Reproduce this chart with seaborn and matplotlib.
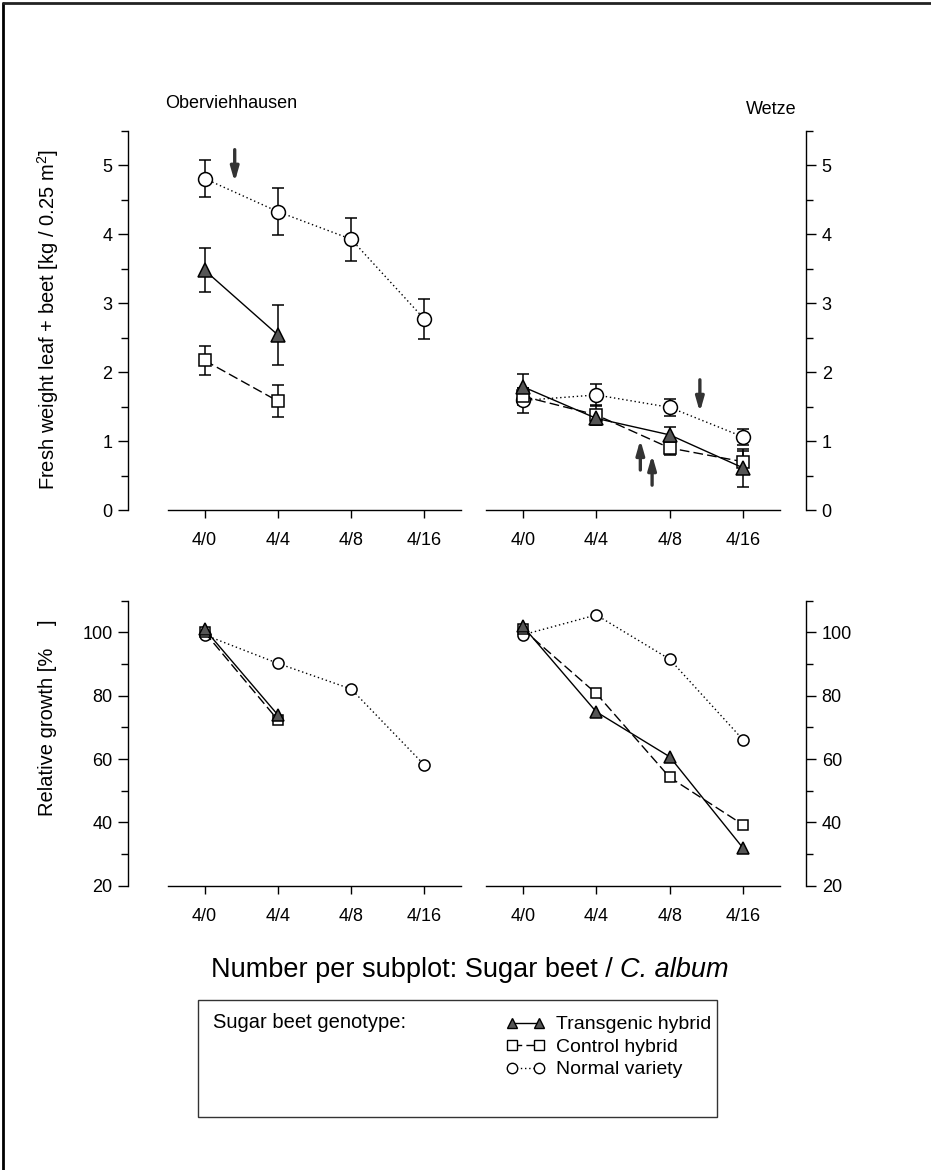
import numpy as np
import pandas as pd
import seaborn as sns
import matplotlib
matplotlib.use('Agg')
from matplotlib import pyplot as plt
from matplotlib.lines import Line2D
from matplotlib.patches import Rectangle

# categories: sugar beet / C. album per subplot
densities = ['4/0', '4/4', '4/8', '4/16']
genotypes = ['Transgenic hybrid', 'Control hybrid', 'Normal variety']

# fresh weight leaf + beet [kg / 0.25 m2], Oberviehhausen
obv_trans = [3.48, 2.54]
obv_trans_err = [0.32, 0.44]
obv_ctrl = [2.17, 1.58]
obv_ctrl_err = [0.21, 0.23]
obv_norm = [4.81, 4.33, 3.93, 2.77]
obv_norm_err = [0.27, 0.34, 0.31, 0.29]

# fresh weight, Wetze
wet_trans = [1.79, 1.33, 1.09, 0.61]
wet_trans_err = [0.19, 0.10, 0.12, 0.27]
wet_ctrl = [1.65, 1.38, 0.90, 0.70]
wet_ctrl_err = [0.12, 0.14, 0.10, 0.15]
wet_norm = [1.59, 1.67, 1.49, 1.06]
wet_norm_err = [0.18, 0.16, 0.12, 0.11]

# relative growth [%]
obv_trans_rel = [101, 73.9]
obv_ctrl_rel = [100, 72.3]
obv_norm_rel = [99.2, 90.2, 82.1, 58.1]
wet_trans_rel = [102, 74.9, 60.7, 31.8]
wet_ctrl_rel = [101, 80.7, 54.2, 39.2]
wet_norm_rel = [99.2, 105.5, 91.5, 66]

sns.set_theme(style='white')
plt.rcParams['font.family'] = ['Liberation Sans', 'DejaVu Sans']
plt.rcParams['mathtext.fontset'] = 'custom'
plt.rcParams['mathtext.rm'] = 'Liberation Sans'
plt.rcParams['mathtext.it'] = 'Liberation Sans:italic'
for k in ['text.color', 'axes.labelcolor', 'xtick.color', 'ytick.color']:
    plt.rcParams[k] = 'black'

styles = {
    'Transgenic hybrid': dict(marker='^', linestyle='-', mfc='#555555', ms=10),
    'Control hybrid': dict(marker='s', linestyle=(0, (7, 3)), mfc='white', ms=9),
    'Normal variety': dict(marker='o', linestyle=(0, (1, 2)), mfc='white', ms=10),
}


def draw_series(ax, vals, errs, geno, ms_scale=1.0):
    st = styles[geno]
    x = np.arange(len(vals))
    df = pd.DataFrame({'x': x, 'y': vals})
    if errs is not None:
        ax.errorbar(x, vals, yerr=errs, fmt='none', ecolor='black',
                    elinewidth=1.1, capsize=4, capthick=1.1, zorder=2)
    sns.lineplot(data=df, x='x', y='y', ax=ax, color='black', lw=1.0,
                 linestyle=st['linestyle'], marker=st['marker'],
                 markerfacecolor=st['mfc'], markeredgecolor='black',
                 markeredgewidth=1.1, markersize=st['ms'] * ms_scale,
                 zorder=3)


def style_axis(ax, ylim, yticks, minor, side):
    ax.set_xlim(-0.5, 3.5)
    ax.set_ylim(*ylim)
    ax.set_xticks(range(4))
    ax.set_xticklabels(densities, fontsize=13)
    ax.set_yticks(yticks)
    ax.set_yticks(minor, minor=True)
    ax.set_xlabel('')
    ax.set_ylabel('')
    for s in ['top', 'left', 'right']:
        ax.spines[s].set_visible(False)
    ax.spines['bottom'].set_color('black')
    ax.spines['bottom'].set_linewidth(1.0)
    sp = ax.spines[side]
    sp.set_visible(True)
    sp.set_color('black')
    sp.set_linewidth(1.0)
    sp.set_position(('outward', 29 if side == 'left' else 19))
    if side == 'right':
        ax.yaxis.tick_right()
    else:
        ax.yaxis.tick_left()
    ax.tick_params(axis='x', direction='out', length=6, width=1, pad=10,
                   bottom=True)
    ax.tick_params(axis='y', which='major', direction='out', length=7,
                   width=1, labelsize=13, pad=4)
    ax.tick_params(axis='y', which='minor', direction='out', length=5,
                   width=1)
    ax.tick_params(axis='y', which='both', left=(side == 'left'),
                   right=(side == 'right'), labelleft=(side == 'left'),
                   labelright=(side == 'right'))
    ax.patch.set_alpha(0)


fig = plt.figure(figsize=(9.31, 11.7), dpi=100)

ax1 = fig.add_axes([0.1805, 0.5641, 0.3147, 0.3239])
ax2 = fig.add_axes([0.522, 0.5641, 0.3158, 0.3239])
ax3 = fig.add_axes([0.1805, 0.243, 0.3147, 0.2436])
ax4 = fig.add_axes([0.522, 0.243, 0.3158, 0.2436])

draw_series(ax1, obv_norm, obv_norm_err, 'Normal variety')
draw_series(ax1, obv_trans, obv_trans_err, 'Transgenic hybrid')
draw_series(ax1, obv_ctrl, obv_ctrl_err, 'Control hybrid')

draw_series(ax2, wet_norm, wet_norm_err, 'Normal variety')
draw_series(ax2, wet_ctrl, wet_ctrl_err, 'Control hybrid')
draw_series(ax2, wet_trans, wet_trans_err, 'Transgenic hybrid')

draw_series(ax3, obv_norm_rel, None, 'Normal variety', 0.8)
draw_series(ax3, obv_ctrl_rel, None, 'Control hybrid', 0.8)
draw_series(ax3, obv_trans_rel, None, 'Transgenic hybrid', 0.8)

draw_series(ax4, wet_norm_rel, None, 'Normal variety', 0.8)
draw_series(ax4, wet_ctrl_rel, None, 'Control hybrid', 0.8)
draw_series(ax4, wet_trans_rel, None, 'Transgenic hybrid', 0.8)

top_ticks = [0, 1, 2, 3, 4, 5]
top_minor = [0.5, 1.5, 2.5, 3.5, 4.5, 5.5]
rel_ticks = [20, 40, 60, 80, 100]
rel_minor = [30, 50, 70, 90, 110]

style_axis(ax1, (0, 5.5), top_ticks, top_minor, 'left')
style_axis(ax2, (0, 5.5), top_ticks, top_minor, 'right')
style_axis(ax3, (20, 110), rel_ticks, rel_minor, 'left')
style_axis(ax4, (20, 110), rel_ticks, rel_minor, 'right')

# arrows marking sampling dates
arrow_kw = dict(arrowstyle='-|>,head_width=0.2,head_length=0.7',
                color='#333333', lw=2.4)
ax1.annotate('', xy=(0.41, 4.72), xytext=(0.41, 5.27), arrowprops=arrow_kw)
ax2.annotate('', xy=(2.41, 1.38), xytext=(2.41, 1.93), arrowprops=arrow_kw)
ax2.annotate('', xy=(1.6, 1.06), xytext=(1.6, 0.54), arrowprops=arrow_kw)
ax2.annotate('', xy=(1.76, 0.84), xytext=(1.76, 0.32), arrowprops=arrow_kw)

# site titles
fig.text(165 / 931, 1 - 104 / 1170, 'Oberviehhausen', fontsize=13,
         ha='left', va='center')
fig.text(797 / 931, 1 - 110 / 1170, 'Wetze', fontsize=13,
         ha='right', va='center')

# axis labels
fig.text(48 / 931, 1 - 320 / 1170,
         'Fresh weight leaf + beet [kg / 0.25 m$^2$]', fontsize=14.5,
         rotation=90, ha='center', va='center')
fig.text(48 / 931, 1 - 718 / 1170, 'Relative growth [%    ]', fontsize=14.5,
         rotation=90, ha='center', va='center')

# common x label, with italic species name
renderer = fig.canvas.get_renderer()
t1 = fig.text(0, 1 - 970 / 1170, 'Number per subplot: Sugar beet / ',
              fontsize=19.5, ha='left', va='center')
t2 = fig.text(0, 1 - 970 / 1170, 'C. album', fontsize=19.5,
              fontstyle='italic', ha='left', va='center')
w1 = t1.get_window_extent(renderer).width / fig.bbox.width
w2 = t2.get_window_extent(renderer).width / fig.bbox.width
x0 = 470 / 931 - (w1 + w2) / 2
t1.set_x(x0)
t2.set_x(x0 + w1)

# legend box
fig.patches.append(Rectangle((198 / 931, 1 - 1117 / 1170), 519 / 931,
                             117 / 1170, transform=fig.transFigure,
                             fill=False, edgecolor='#333333', lw=1.0))
fig.text(213 / 931, 1 - 1022 / 1170, 'Sugar beet genotype:', fontsize=14.5,
         ha='left', va='center')
handles = []
for g in genotypes:
    st = styles[g]
    handles.append(Line2D([], [], color='black', lw=1.0,
                          linestyle=st['linestyle'], marker=st['marker'],
                          markerfacecolor=st['mfc'], markeredgecolor='black',
                          markersize=st['ms'] * 0.75))
fig.legend(handles, genotypes, loc='upper left',
           bbox_to_anchor=(498 / 931, 1 - 1008 / 1170), frameon=False,
           fontsize=14, numpoints=2, handlelength=2.0, handletextpad=0.6,
           labelspacing=0.25, borderaxespad=0)

# scanned page frame
fig.add_artist(Line2D([3 / 931, 3 / 931], [0, 1 - 3 / 1170],
                      transform=fig.transFigure, color='black', lw=2))
fig.add_artist(Line2D([3 / 931, 1], [1 - 3 / 1170, 1 - 3 / 1170],
                      transform=fig.transFigure, color='#222222', lw=2))

fig.savefig('out.png', dpi=100)
